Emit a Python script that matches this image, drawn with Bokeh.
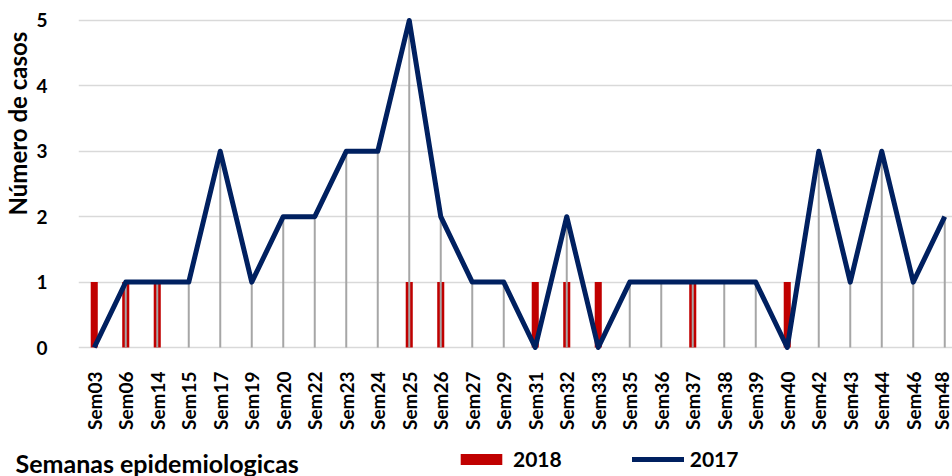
from math import pi
from bokeh.plotting import figure
from bokeh.layouts import column, row
from bokeh.models import Range1d, FixedTicker, Label, Legend, LegendItem
from bokeh.embed import file_html
from bokeh.resources import INLINE

weeks = ["Sem03", "Sem06", "Sem14", "Sem15", "Sem17", "Sem19", "Sem20", "Sem22",
         "Sem23", "Sem24", "Sem25", "Sem26", "Sem27", "Sem29", "Sem31", "Sem32",
         "Sem33", "Sem35", "Sem36", "Sem37", "Sem38", "Sem39", "Sem40", "Sem42",
         "Sem43", "Sem44", "Sem46", "Sem48"]
cases_2017 = [0, 1, 1, 1, 3, 1, 2, 2, 3, 3, 5, 2, 1, 1, 0, 2, 0, 1, 1, 1, 1, 1, 0, 3, 1, 3, 1, 2]
cases_2018 = [1, 1, 1, 0, 0, 0, 0, 0, 0, 0, 1, 1, 0, 0, 1, 1, 1, 0, 0, 1, 0, 0, 1, 0, 0, 0, 0, 0]
y_ticks = [0, 1, 2, 3, 4, 5]

FONT = "Lato"
RED = "#C00000"
NAVY = "#002060"

LEFT_W = 31          # width of the strip holding the y-axis title
MAIN_W = 921
MAIN_H = 440
BOTTOM_H = 36
FRAME_LEFT = 47
SPACING = 31.5
x_end = (MAIN_W - FRAME_LEFT) / SPACING - 0.5
xs = list(range(len(weeks)))


def strip(w, h):
    s = figure(width=w, height=h, output_backend="svg", toolbar_location=None,
               x_range=Range1d(0, w), y_range=Range1d(0, h))
    s.min_border_left = s.min_border_right = s.min_border_top = s.min_border_bottom = 0
    s.axis.visible = False
    s.grid.visible = False
    s.outline_line_color = None
    return s


# ---- main chart ----
p = figure(width=MAIN_W, height=MAIN_H, output_backend="svg", toolbar_location=None,
           x_range=Range1d(-0.5, x_end), y_range=Range1d(-0.107, 5.107))
p.min_border_left = FRAME_LEFT
p.min_border_right = 0
p.min_border_top = 13
p.min_border_bottom = 86
p.outline_line_color = None

p.xgrid.visible = False
p.ygrid.ticker = FixedTicker(ticks=y_ticks)
p.ygrid.grid_line_color = "#D9D9D9"
p.ygrid.grid_line_width = 1.5

p.xaxis.ticker = FixedTicker(ticks=xs)
p.xaxis.major_label_overrides = {i: w for i, w in enumerate(weeks)}
p.xaxis.major_label_orientation = pi / 2
p.yaxis.ticker = FixedTicker(ticks=y_ticks)
for ax in (p.xaxis[0], p.yaxis[0]):
    ax.axis_line_color = None
    ax.major_tick_line_color = None
    ax.minor_tick_line_color = None
    ax.major_label_text_font = FONT
    ax.major_label_text_font_style = "bold"
    ax.major_label_text_color = "black"
p.xaxis.major_label_text_font_size = "19px"
p.xaxis.major_label_standoff = 11
p.yaxis.major_label_text_font_size = "19px"
p.yaxis.major_label_standoff = 25

p.vbar(x=xs, top=cases_2018, bottom=0, width=0.224, fill_color=RED, line_color=None)
p.segment(x0=xs, y0=[0] * len(xs), x1=xs, y1=cases_2017, line_color="#A6A6A6", line_width=2)
p.line(x=xs, y=cases_2017, line_color=NAVY, line_width=5, line_join="round")

# ---- y-axis title strip ----
ls = strip(LEFT_W, MAIN_H)
ls.add_layout(Label(x=17, y=MAIN_H - 142, text="Número de casos", angle=pi / 2,
                    text_align="center", text_baseline="middle", text_font=FONT,
                    text_font_style="bold", text_font_size="24px", text_color="black"))

# ---- bottom strip: x title + legend ----
bs = strip(LEFT_W + MAIN_W, BOTTOM_H)
# legend-only renderers, kept outside the visible range
leg_bar = bs.vbar(x=[-500], top=[0], bottom=0, width=1, fill_color=RED, line_color=None)
leg_line = bs.line(x=[-500, -499], y=[0, 0], line_color=NAVY, line_width=5, line_cap="round")
legend = Legend(items=[LegendItem(label="2018", renderers=[leg_bar]),
                       LegendItem(label="2017", renderers=[leg_line])],
                orientation="horizontal", location=(455, 5),
                glyph_width=52, glyph_height=14, label_standoff=6, spacing=70,
                padding=0, margin=0, border_line_color=None, background_fill_alpha=0,
                label_text_font=FONT, label_text_font_style="bold", label_text_font_size="21px",
                label_text_color="black")
bs.add_layout(legend)
bs.add_layout(Label(x=15, y=14, text="Semanas epidemiologicas",
                    text_align="left", text_baseline="middle", text_font=FONT,
                    text_font_style="bold", text_font_size="25px", text_color="black"))

layout = column(row(ls, p), bs)
open("out.html", "w").write(file_html(layout, INLINE))
